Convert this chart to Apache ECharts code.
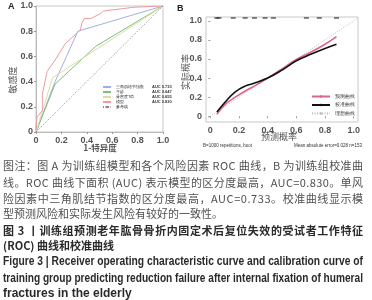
<!DOCTYPE html>
<html><head><meta charset="utf-8">
<script src="https://cdn.jsdelivr.net/npm/echarts@6/dist/echarts.min.js"></script>
<style>
body{margin:0;background:#fff;}
#c{position:absolute;left:0;top:0;width:372px;height:300px;}
.cap{position:absolute;left:3px;white-space:nowrap;font-family:"Noto Sans CJK SC",sans-serif;font-size:11px;line-height:14px;color:#505050;transform-origin:0 50%;}
.b{font-weight:bold;color:#2a2a2a;}
.en{font-family:"Liberation Sans Narrow","Liberation Sans",sans-serif;font-size:12px;font-weight:bold;color:#2a2a2a;}
</style></head><body>
<div id="c"></div>
<div class="cap full" style="top:158px">图注：图 A 为训练组模型和各个风险因素 ROC 曲线，B 为训练组校准曲</div>
<div class="cap full" style="top:175px">线。ROC 曲线下面积 (AUC) 表示模型的区分度最高，AUC=0.830。单风</div>
<div class="cap full" style="top:191px">险因素中三角肌结节指数的区分度最高，AUC=0.733。校准曲线显示模</div>
<div class="cap" style="top:206px">型预测风险和实际发生风险有较好的一致性。</div>
<div class="cap full b" style="top:223px">图 3 丨训练组预测老年肱骨骨折内固定术后复位失效的受试者工作特征</div>
<div class="cap b" style="top:238px">(ROC) 曲线和校准曲线</div>
<div class="cap full en" style="top:254px">Figure 3 | Receiver operating characteristic curve and calibration curve of</div>
<div class="cap full en" style="top:271px">training group predicting reduction failure after internal fixation of humeral</div>
<div class="cap en" style="top:286px">fractures in the elderly</div>
<script>
// ---- Panel A: ROC curves ----
const rocNames = ['三角肌结节指数', '年龄', '骨密度T值', '模型', '参考线'];
const rocAuc = ['AUC 0.733', 'AUC 0.647', 'AUC 0.655', 'AUC 0.830', ''];
const blueX = [0, 0.15, 0.33, 1];
const blueY = [0, 0.40, 0.80, 1];
const greenX = [0, 0.15, 0.47, 1];
const greenY = [0, 0.38, 0.68, 1];
const yellowX = [0, 0.13, 1];
const yellowY = [0, 0.43, 1];
const redX = [0, 0, 0.008, 0.05, 0.05, 0.087, 0.15, 0.23, 0.35, 0.36, 0.38, 0.43, 0.51, 0.53, 0.77, 1];
const redY = [0, 0.05, 0.12, 0.17, 0.30, 0.48, 0.57, 0.70, 0.81, 0.86, 0.90, 0.90, 0.94, 0.96, 0.99, 1];
const refX = [0, 1];
const refY = [0, 1];
const tickVals = [0, 0.2, 0.4, 0.6, 0.8, 1.0];

// ---- Panel B: calibration ----
const calNames = ['预测曲线', '校准曲线', '理想曲线'];
const pinkX = [0.046, 0.10, 0.174, 0.25, 0.30, 0.40, 0.50, 0.60, 0.70, 0.80, 0.88];
const pinkY = [0.02, 0.12, 0.20, 0.27, 0.31, 0.40, 0.495, 0.596, 0.67, 0.755, 0.835];
const blackX = [0.046, 0.104, 0.174, 0.243, 0.30, 0.40, 0.50, 0.60, 0.70, 0.80, 0.88];
const blackY = [0.045, 0.15, 0.256, 0.316, 0.344, 0.40, 0.484, 0.582, 0.649, 0.71, 0.754];
const idealX = [-0.03, 1.03];
const idealY = [-0.03, 1.03];
const rugX = [0.046, 0.06, 0.16, 0.243, 0.308, 0.382, 0.44, 0.67, 0.76, 0.88];

const pair = (xs, ys) => xs.map((x, i) => [x, ys[i]]);
const fmt = v => Math.abs(v) < 1e-9 ? '0' : v.toFixed(1);
const tickFont = {fontFamily: 'Liberation Sans', fontWeight: 'bold', fontSize: 9, color: '#555'};

const chart = echarts.init(document.getElementById('c'));
const aucMap = {};
rocNames.forEach((n, i) => aucMap[n] = rocAuc[i]);

chart.setOption({
  animation: false,
  grid: [
    {left: 36, top: 6, width: 127, height: 126, show: true, borderColor: '#c8c8c8', borderWidth: 1},
    {left: 206, top: 17, width: 152, height: 105, show: true, borderColor: '#c8c8c8', borderWidth: 1}
  ],
  xAxis: [
    {gridIndex: 0, type: 'value', min: 0, max: 1, interval: 0.2,
     axisLine: {show: true, lineStyle: {color: '#bbb'}}, axisTick: {show: true, length: 2, lineStyle: {color: '#999'}},
     splitLine: {show: false}, axisLabel: Object.assign({formatter: fmt, margin: 4}, tickFont)},
    {gridIndex: 1, type: 'value', min: -0.03, max: 1.03,
     axisLine: {show: false}, axisTick: {show: true, length: 2, customValues: tickVals, lineStyle: {color: '#999'}},
     splitLine: {show: false},
     axisLabel: Object.assign({formatter: fmt, margin: 4, customValues: tickVals}, tickFont)}
  ],
  yAxis: [
    {gridIndex: 0, type: 'value', min: 0, max: 1, interval: 0.2,
     axisLine: {show: true, lineStyle: {color: '#bbb'}}, axisTick: {show: true, length: 2, lineStyle: {color: '#999'}},
     splitLine: {show: false}, axisLabel: Object.assign({formatter: fmt, margin: 3}, tickFont)},
    {gridIndex: 1, type: 'value', min: -0.06, max: 1.04,
     axisLine: {show: false}, axisTick: {show: true, length: 2, customValues: tickVals, lineStyle: {color: '#999'}},
     splitLine: {show: false},
     axisLabel: Object.assign({formatter: fmt, margin: 4, customValues: tickVals}, tickFont)}
  ],
  legend: [
    {data: rocNames, orient: 'vertical', left: 97, top: 80, itemWidth: 8, itemHeight: 3, itemGap: 1,
     textStyle: {fontSize: 4, color: '#333',
       rich: {a: {fontSize: 4, width: 36, color: '#333'}, b: {fontSize: 4, fontWeight: 'bold', color: '#333'}}},
     formatter: n => '{a|' + n + '}{b|' + aucMap[n] + '}'},
    {data: calNames, orient: 'vertical', left: 306, top: 89, itemWidth: 18, itemHeight: 3, itemGap: 3.5,
     textStyle: {fontSize: 4.5, color: '#333'}}
  ],
  series: [
    {name: rocNames[0], type: 'line', xAxisIndex: 0, yAxisIndex: 0, symbol: 'none', data: pair(blueX, blueY), lineStyle: {color: '#a3b0de', width: 1}, itemStyle: {color: '#a3b0de'}},
    {name: rocNames[1], type: 'line', xAxisIndex: 0, yAxisIndex: 0, symbol: 'none', data: pair(greenX, greenY), lineStyle: {color: '#7cc07c', width: 1}, itemStyle: {color: '#7cc07c'}},
    {name: rocNames[2], type: 'line', xAxisIndex: 0, yAxisIndex: 0, symbol: 'none', data: pair(yellowX, yellowY), lineStyle: {color: '#dcdca6', width: 1}, itemStyle: {color: '#dcdca6'}},
    {name: rocNames[3], type: 'line', xAxisIndex: 0, yAxisIndex: 0, symbol: 'none', data: pair(redX, redY), lineStyle: {color: '#ee9a9e', width: 1}, itemStyle: {color: '#ee9a9e'}},
    {name: rocNames[4], type: 'line', xAxisIndex: 0, yAxisIndex: 0, symbol: 'none', data: pair(refX, refY), lineStyle: {color: '#888', width: 1, type: [1, 1.5]}, itemStyle: {color: '#888'}},
    {name: calNames[2], type: 'line', xAxisIndex: 1, yAxisIndex: 1, symbol: 'none', data: pair(idealX, idealY), lineStyle: {color: '#bbb', width: 1, type: [1, 1.5]}, itemStyle: {color: '#bbb'}},
    {name: calNames[0], type: 'line', xAxisIndex: 1, yAxisIndex: 1, symbol: 'none', smooth: 0.4, data: pair(pinkX, pinkY), lineStyle: {color: '#d9668c', width: 1.6}, itemStyle: {color: '#d9668c'}},
    {name: calNames[1], type: 'line', xAxisIndex: 1, yAxisIndex: 1, symbol: 'none', smooth: 0.4, data: pair(blackX, blackY), lineStyle: {color: '#111', width: 1.6}, itemStyle: {color: '#111'}},
    {name: 'rug', type: 'scatter', xAxisIndex: 1, yAxisIndex: 1, symbol: 'rect', symbolSize: [5, 1.5], clip: false,
     data: rugX.map(x => [x, 1.03]), itemStyle: {color: '#333'}, silent: true}
  ],
  graphic: [
    {type: 'text', left: 8, top: 2, style: {text: 'A', font: 'bold 9px "Liberation Sans"', fill: '#222'}},
    {type: 'text', left: 177, top: 4, style: {text: 'B', font: 'bold 9px "Liberation Sans"', fill: '#222'}},
    {type: 'text', x: 13, y: 80, rotation: Math.PI / 2, style: {text: '敏感度', font: '9px "Noto Sans CJK SC"', fill: '#555', align: 'center', verticalAlign: 'middle'}},
    {type: 'text', x: 100, y: 148, style: {text: '1-特异度', font: 'bold 8.5px "Noto Sans CJK SC"', fill: '#555', align: 'center', verticalAlign: 'middle'}},
    {type: 'text', x: 186, y: 72, rotation: Math.PI / 2, style: {text: '实际概率', font: '9px "Noto Sans CJK SC"', fill: '#555', align: 'center', verticalAlign: 'middle'}},
    {type: 'text', x: 279, y: 137, style: {text: '预测概率', font: '9px "Noto Sans CJK SC"', fill: '#555', align: 'center', verticalAlign: 'middle'}},
    {type: 'text', x: 203, y: 146, style: {text: 'B=1000 repetitions, boot', font: '4.5px "Liberation Sans"', fill: '#333', verticalAlign: 'middle'}},
    {type: 'text', x: 362, y: 146, style: {text: 'Mean absolute error=0.028 n=153', font: '4.5px "Liberation Sans"', fill: '#333', align: 'right', verticalAlign: 'middle'}}
  ]
});

document.querySelectorAll('.cap.full').forEach(el => {
  const target = 360;
  const w = el.getBoundingClientRect().width;
  const n = el.textContent.length;
  if (w < target) {
    el.style.letterSpacing = ((target - w) / (n - 1)) + 'px';
  } else {
    el.style.transform = 'scaleX(' + (target / w) + ')';
  }
});
</script>
</body></html>
